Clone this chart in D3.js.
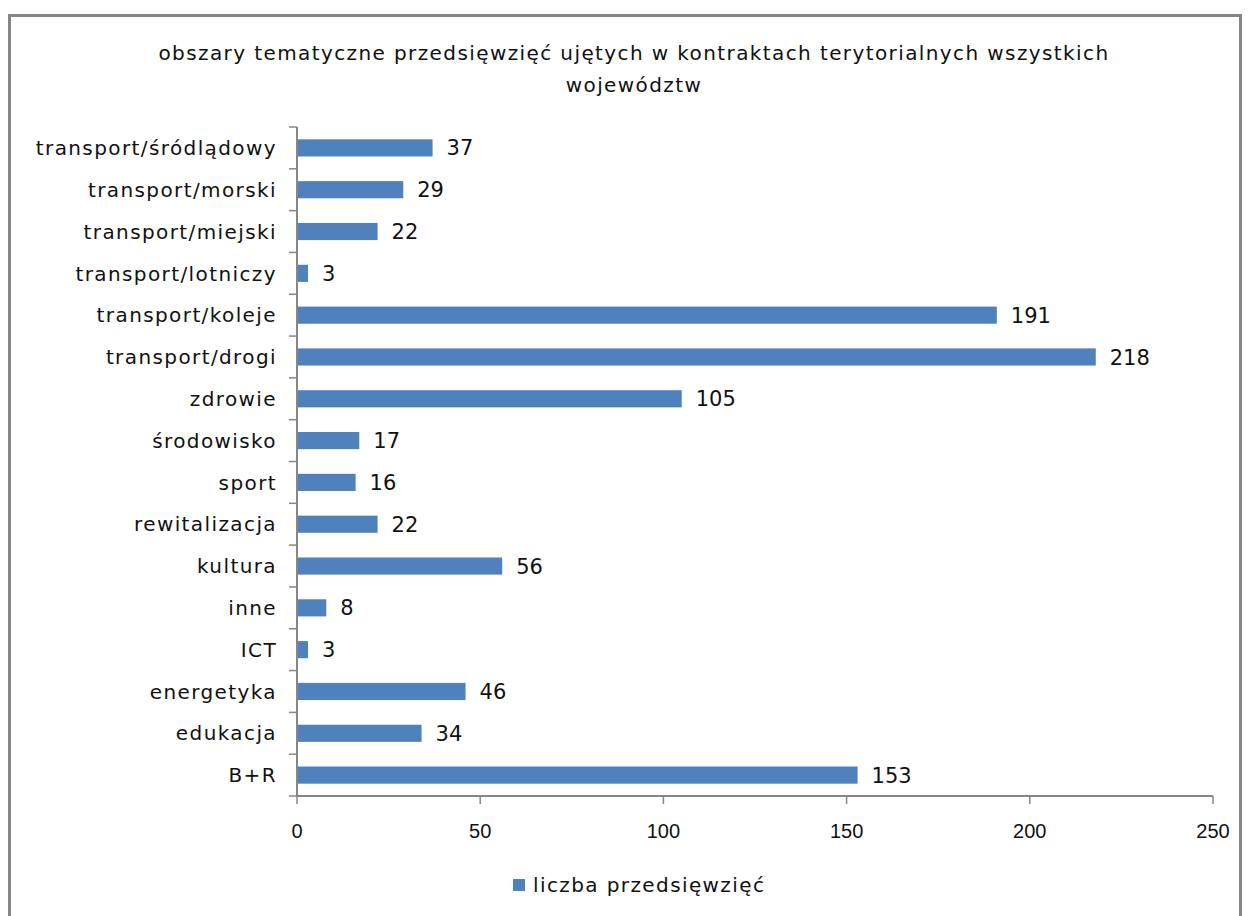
<!DOCTYPE html>
<html>
<head>
  <meta charset="utf-8">
  <title>obszary tematyczne</title>
  <script src="https://cdnjs.cloudflare.com/ajax/libs/d3/7.8.5/d3.min.js"></script>
  <style>
    body {
      margin: 0;
      background: #fff;
    }
    .cat-label, .title, .legend-label, .value-label {
      font-family: "DejaVu Sans", sans-serif;
      fill: #111;
    }
    .cat-label, .title, .legend-label {
      letter-spacing: 1.4px;
    }
    .tick-label {
      font-family: "Liberation Sans", Arial, sans-serif;
      fill: #111;
    }
  </style>
</head>
<body>
  <div id="chart"></div>

  <script>
    // Data (first item is drawn at the top)
    const categories = [
      "transport/śródlądowy", "transport/morski", "transport/miejski",
      "transport/lotniczy", "transport/koleje", "transport/drogi",
      "zdrowie", "środowisko", "sport", "rewitalizacja", "kultura",
      "inne", "ICT", "energetyka", "edukacja", "B+R"
    ];
    const values = [37, 29, 22, 3, 191, 218, 105, 17, 16, 22, 56, 8, 3, 46, 34, 153];
    const xTicks = [0, 50, 100, 150, 200, 250];
    const titleLines = [
      "obszary tematyczne przedsięwzięć  ujętych w kontraktach terytorialnych wszystkich",
      "województw"
    ];
    const seriesName = "liczba przedsięwzięć";

    const width = 1248;
    const height = 916;
    const margin = { top: 127, left: 297 };
    const plotRight = 1213;
    const plotBottom = 796;

    const svg = d3.select("#chart")
      .append("svg")
      .attr("width", width)
      .attr("height", height);

    // Outer frame
    svg.append("rect")
      .attr("x", 9.5)
      .attr("y", 15.5)
      .attr("width", 1231)
      .attr("height", 920)
      .attr("fill", "#fff")
      .attr("stroke", "#868686")
      .attr("stroke-width", 3);

    // Title
    svg.append("g")
      .selectAll("text")
      .data(titleLines)
      .enter().append("text")
      .attr("class", "title")
      .attr("x", 634)
      .attr("y", (d, i) => 60 + i * 32)
      .attr("text-anchor", "middle")
      .attr("font-size", 20)
      .text(d => d);

    const x = d3.scaleLinear()
      .domain([0, 250])
      .range([margin.left, plotRight]);

    const y = d3.scaleBand()
      .domain(categories)
      .range([margin.top, plotBottom])
      .paddingInner(0.59)
      .paddingOuter(0.295);

    // Bars
    svg.append("g")
      .selectAll("rect")
      .data(values)
      .enter().append("rect")
      .attr("x", x(0))
      .attr("y", (d, i) => y(categories[i]))
      .attr("width", d => x(d) - x(0))
      .attr("height", y.bandwidth())
      .attr("fill", "#4F81BD");

    // Value labels
    svg.append("g")
      .selectAll("text")
      .data(values)
      .enter().append("text")
      .attr("class", "value-label")
      .attr("x", d => x(d) + 14)
      .attr("y", (d, i) => y(categories[i]) + y.bandwidth() / 2)
      .attr("dy", "0.36em")
      .attr("font-size", 21)
      .text(d => d);

    // Y axis (category ticks between bands)
    const bandStep = (plotBottom - margin.top) / categories.length;
    const yAxis = svg.append("g");
    yAxis.append("line")
      .attr("x1", margin.left).attr("x2", margin.left)
      .attr("y1", margin.top).attr("y2", plotBottom)
      .attr("stroke", "#868686").attr("stroke-width", 2);
    yAxis.selectAll("line.tick")
      .data(d3.range(categories.length + 1))
      .enter().append("line")
      .attr("class", "tick")
      .attr("x1", margin.left - 8).attr("x2", margin.left)
      .attr("y1", i => margin.top + i * bandStep)
      .attr("y2", i => margin.top + i * bandStep)
      .attr("stroke", "#868686").attr("stroke-width", 1.5);
    yAxis.selectAll("text")
      .data(categories)
      .enter().append("text")
      .attr("class", "cat-label")
      .attr("x", 277)
      .attr("y", d => y(d) + y.bandwidth() / 2)
      .attr("dy", "0.36em")
      .attr("text-anchor", "end")
      .attr("font-size", 20)
      .text(d => d);

    // X axis
    const xAxis = svg.append("g");
    xAxis.append("line")
      .attr("x1", margin.left).attr("x2", plotRight)
      .attr("y1", plotBottom).attr("y2", plotBottom)
      .attr("stroke", "#868686").attr("stroke-width", 2);
    xAxis.selectAll("line.tick")
      .data(xTicks)
      .enter().append("line")
      .attr("class", "tick")
      .attr("x1", d => x(d)).attr("x2", d => x(d))
      .attr("y1", plotBottom).attr("y2", plotBottom + 8)
      .attr("stroke", "#868686").attr("stroke-width", 1.5);
    xAxis.selectAll("text")
      .data(xTicks)
      .enter().append("text")
      .attr("class", "tick-label")
      .attr("x", d => x(d))
      .attr("y", 838)
      .attr("text-anchor", "middle")
      .attr("font-size", 20)
      .text(d => d);

    // Legend
    const legend = svg.append("g");
    legend.append("rect")
      .attr("x", 513).attr("y", 879)
      .attr("width", 12).attr("height", 12)
      .attr("fill", "#4F81BD");
    legend.append("text")
      .attr("class", "legend-label")
      .attr("x", 533)
      .attr("y", 885)
      .attr("dy", "0.36em")
      .attr("font-size", 20)
      .text(seriesName);
  </script>
</body>
</html>
